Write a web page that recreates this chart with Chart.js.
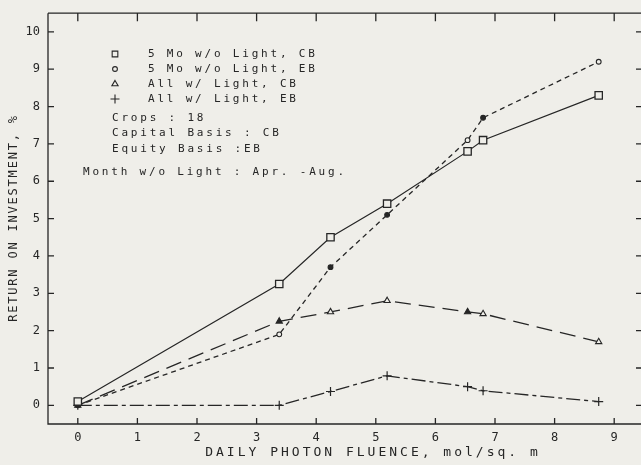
<!DOCTYPE html>
<html>
<head>
<meta charset="utf-8">
<script src="https://cdn.jsdelivr.net/npm/chart.js@4.4.0/dist/chart.umd.min.js"></script>
<style>
  html, body { margin: 0; padding: 0; background: #efeee9; overflow: hidden; }
  #wrap { position: relative; width: 646px; height: 467px; margin-top: -2px; }
</style>
</head>
<body>
<div id="wrap"><canvas id="photon-chart" width="646" height="467"></canvas></div>
<script>
// data
const fluence = [0, 3.38, 4.24, 5.19, 6.54, 6.8, 8.74];
const moLightCB = [0.1, 3.25, 4.5, 5.4, 6.8, 7.1, 8.3];
const moLightEB = [0, 1.9, 3.7, 5.1, 7.1, 7.7, 9.2];
const allLightCB = [0, 2.25, 2.5, 2.8, 2.5, 2.45, 1.7];
const allLightEB = [0, 0, 0.37, 0.79, 0.5, 0.39, 0.1];

const xTicks = [0, 1, 2, 3, 4, 5, 6, 7, 8, 9];
const yTicks = [0, 1, 2, 3, 4, 5, 6, 7, 8, 9, 10];

const seriesLabels = ["5 Mo w/o Light, CB", "5 Mo w/o Light, EB", "All w/ Light, CB", "All w/ Light, EB"];
const notes = ["Crops : 18", "Capital Basis : CB", "Equity Basis :EB"];
const monthNote = "Month w/o Light : Apr. -Aug.";
const xTitle = "DAILY PHOTON FLUENCE, mol/sq. m";
const yTitle = "RETURN ON INVESTMENT, %";

const INK = "#262626";
const PAPER = "#efeee9";
const FONT = "'DejaVu Sans Mono', monospace";
const SHIFT = 2; // canvas is pulled up by this much

const toPoints = (ys) => ys.map((y, i) => ({ x: fluence[i], y: y }));

// frame, inward ticks, notes and axis titles
const plotterDecor = {
  id: "plotterDecor",
  afterDraw(chart) {
    const { ctx, chartArea: a, scales } = chart;
    ctx.save();
    ctx.strokeStyle = INK;
    ctx.fillStyle = INK;
    ctx.lineWidth = 1.3;

    ctx.beginPath();
    ctx.moveTo(a.left, a.top);
    ctx.lineTo(a.right, a.top);
    ctx.moveTo(a.left, a.top);
    ctx.lineTo(a.left, a.bottom);
    ctx.lineTo(a.right, a.bottom);
    ctx.lineTo(a.right, a.top);
    xTicks.forEach((v) => {
      const px = scales.x.getPixelForValue(v);
      ctx.moveTo(px, a.top);
      ctx.lineTo(px, a.top + 8);
      ctx.moveTo(px, a.bottom);
      ctx.lineTo(px, a.bottom - 6);
    });
    yTicks.forEach((v) => {
      const py = scales.y.getPixelForValue(v);
      ctx.moveTo(a.left, py);
      ctx.lineTo(a.left + 6, py);
      ctx.moveTo(a.right, py);
      ctx.lineTo(a.right - 8, py);
    });
    ctx.stroke();

    ctx.translate(0, SHIFT);

    // legend block
    ctx.font = "11px " + FONT;
    ctx.letterSpacing = "2.8px";
    ctx.textBaseline = "middle";
    ctx.textAlign = "left";
    chart.data.datasets.forEach((ds, i) => {
      const y = 54 + i * 15;
      ctx.fillStyle = PAPER;
      ctx.strokeStyle = INK;
      ctx.lineWidth = 1.1;
      Chart.helpers.drawPoint(ctx, {
        pointStyle: ds.pointStyle,
        radius: i === 0 ? 4 : ds.pointRadius,
        borderWidth: 1.1,
        rotation: 0
      }, 115, y);
      ctx.fillStyle = INK;
      ctx.fillText(seriesLabels[i], 148, y);
    });
    notes.forEach((t, i) => ctx.fillText(t, 112, 118 + i * 15.5));
    ctx.fillText(monthNote, 83, 172);

    // axis titles
    ctx.textAlign = "center";
    ctx.font = "13px " + FONT;
    ctx.letterSpacing = "3px";
    ctx.fillText(xTitle, 373, 453);
    ctx.translate(14, 218);
    ctx.rotate(-Math.PI / 2);
    ctx.font = "12px " + FONT;
    ctx.letterSpacing = "1.8px";
    ctx.fillText(yTitle, 0, 0);
    ctx.restore();
  }
};

const ctx = document.getElementById("photon-chart").getContext("2d");
new Chart(ctx, {
  type: "scatter",
  data: {
    datasets: [
      {
        label: seriesLabels[0],
        data: toPoints(moLightCB),
        showLine: true,
        borderColor: INK,
        borderWidth: 1.2,
        pointStyle: "rect",
        pointRadius: 5.2,
        pointBorderWidth: 1.3,
        pointBorderColor: INK,
        pointBackgroundColor: PAPER
      },
      {
        label: seriesLabels[1],
        data: toPoints(moLightEB),
        showLine: true,
        borderColor: INK,
        borderWidth: 1.3,
        borderDash: [5, 4],
        pointStyle: "circle",
        pointRadius: 2.4,
        pointBorderWidth: 1.1,
        pointBorderColor: INK,
        pointBackgroundColor: [INK, PAPER, INK, INK, PAPER, INK, PAPER]
      },
      {
        label: seriesLabels[2],
        data: toPoints(allLightCB),
        showLine: true,
        borderColor: INK,
        borderWidth: 1.3,
        borderDash: [16, 8],
        pointStyle: "triangle",
        pointRadius: 3.6,
        pointBorderWidth: 1.1,
        pointBorderColor: INK,
        pointBackgroundColor: [INK, INK, PAPER, PAPER, INK, PAPER, PAPER]
      },
      {
        label: seriesLabels[3],
        data: toPoints(allLightEB),
        showLine: true,
        borderColor: INK,
        borderWidth: 1.3,
        borderDash: [14, 4, 4, 4],
        pointStyle: "cross",
        pointRadius: 4.5,
        pointBorderWidth: 1.2,
        pointBorderColor: INK,
        pointBackgroundColor: PAPER
      }
    ]
  },
  options: {
    responsive: false,
    animation: false,
    devicePixelRatio: 1,
    layout: { autoPadding: false, padding: { top: 11, right: 2, left: 0, bottom: 0 } },
    plugins: {
      legend: { display: false },
      tooltip: { enabled: false }
    },
    scales: {
      x: {
        type: "linear",
        min: -0.5,
        max: 9.5,
        afterBuildTicks: (s) => { s.ticks = xTicks.map((v) => ({ value: v })); },
        afterFit: (s) => { s.height = 41; },
        grid: { display: false, drawTicks: false },
        border: { display: false },
        ticks: { autoSkip: false, maxRotation: 0, color: INK, padding: 7,
                 font: { family: FONT, size: 12 } }
      },
      y: {
        type: "linear",
        min: -0.5,
        max: 10.5,
        afterBuildTicks: (s) => { s.ticks = yTicks.map((v) => ({ value: v })); },
        afterFit: (s) => { s.width = 48; },
        grid: { display: false, drawTicks: false },
        border: { display: false },
        ticks: { autoSkip: false, color: INK, padding: 8,
                 font: { family: FONT, size: 12 } }
      }
    }
  },
  plugins: [plotterDecor]
});
</script>
</body>
</html>
